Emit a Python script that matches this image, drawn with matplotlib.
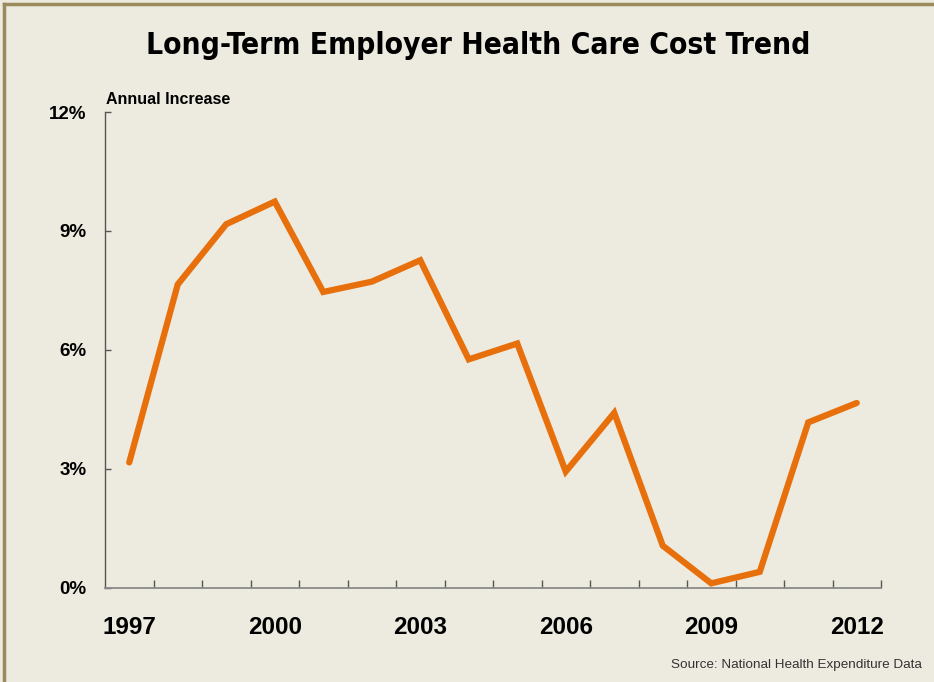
import numpy as np
import matplotlib.pyplot as plt
from matplotlib.lines import Line2D

# Data
years = list(range(1997, 2013))
increase = [3.16, 7.65, 9.17, 9.74, 7.46, 7.72, 8.26, 5.76, 6.16,
            2.93, 4.41, 1.06, 0.11, 0.40, 4.17, 4.66]
y_ticks = [0, 3, 6, 9, 12]
label_years = [1997, 2000, 2003, 2006, 2009, 2012]

bg = '#EDEBE0'
orange = '#E8700C'
plt.rcParams['font.family'] = ['Liberation Sans', 'DejaVu Sans']

fig = plt.figure(figsize=(9.34, 6.82), dpi=100, facecolor=bg)
W, H = 934, 682
ax = fig.add_axes([105 / W, 1 - 587.7 / H, (881 - 105) / W, (587.7 - 112) / H])
ax.set_facecolor(bg)

x = np.arange(len(years))
ax.plot(x, increase, color=orange, linewidth=4.5, solid_joinstyle='miter',
        solid_capstyle='round')

ax.set_xlim(-0.5, len(years) - 0.5)
ax.set_ylim(0, 12)

# y axis
ax.set_yticks(y_ticks)
ax.set_yticklabels([f'{v}%' for v in y_ticks])
ax.tick_params(axis='y', direction='in', length=4, width=1, color='#555555',
               labelsize=13.5, pad=13.5)
for lab in ax.get_yticklabels():
    lab.set_fontweight('bold')

# x axis: ticks on category boundaries, labels at centres
ax.set_xticks(np.arange(0.5, len(years)))
ax.set_xticklabels([])
ax.tick_params(axis='x', which='major', direction='in', length=5.5, width=1,
               color='#555555')
lab_pos = [years.index(yv) for yv in label_years]
ax.set_xticks(lab_pos, minor=True)
ax.set_xticklabels([str(yv) for yv in label_years], minor=True)
ax.tick_params(axis='x', which='minor', length=0, labelsize=17.5, pad=20.5)
for lab in ax.get_xticklabels(minor=True):
    lab.set_fontweight('bold')

for s in ['top', 'right']:
    ax.spines[s].set_visible(False)
ax.spines['left'].set_color('#555555')
ax.spines['bottom'].set_color('#8a8a8a')
ax.spines['left'].set_linewidth(1)
ax.spines['bottom'].set_linewidth(1.3)

fig.text(478 / W, 1 - 45 / H, 'Long-Term Employer Health Care Cost Trend',
         ha='center', va='center', fontsize=21.5, fontweight='heavy',
         family=['DejaVu Sans'], fontstretch='condensed')
fig.text(106 / W, 1 - 100 / H, 'Annual Increase', ha='left', va='center',
         fontsize=11.5, fontweight='bold')
fig.text(922 / W, 1 - 665 / H, 'Source: National Health Expenditure Data',
         ha='right', va='center', fontsize=9.7, color='#333333')

# frame lines on top and left edge
border = '#9A8A5C'
fig.add_artist(Line2D([4 / W, 1], [1 - 4 / H, 1 - 4 / H], color=border,
                      linewidth=2.5, transform=fig.transFigure))
fig.add_artist(Line2D([4 / W, 4 / W], [0, 1 - 4 / H], color=border,
                      linewidth=2.5, transform=fig.transFigure))

fig.savefig('out.png', dpi=100, facecolor=bg)
